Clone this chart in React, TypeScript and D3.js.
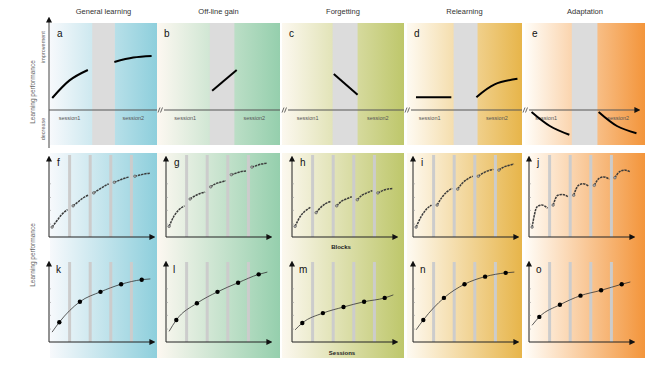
import * as d3 from 'd3';

const titles = ['General learning', 'Off-line gain', 'Forgetting', 'Relearning', 'Adaptation'];
const topLetters = ['a', 'b', 'c', 'd', 'e'];
const blockLetters = ['f', 'g', 'h', 'i', 'j'];
const sessionLetters = ['k', 'l', 'm', 'n', 'o'];
const gradStart = ['#f7f9fc', '#fdf8f1', '#fcf8ef', '#fefaf2', '#fffdf8'];
const gradEnd = ['#8ecfdc', '#95cfad', '#bec76b', '#e7b54a', '#f3953b'];

// top row: [time, performance]; time 0-4 = session1, 4-6 = break, 6-10 = session2
const curveA = [[[0.3, 0.15], [1.9, 0.37], [3.6, 0.5]], [[6.05, 0.6], [7.8, 0.655], [9.5, 0.675]]];
const curveB = [[[4.2, 0.24], [6.3, 0.5]]];
const curveC = [[[4.1, 0.45], [6.1, 0.19]]];
const curveD = [[[0.7, 0.16], [3.8, 0.16]], [[6.0, 0.16], [7.6, 0.32], [9.6, 0.39]]];
const curveE = [[[0.7, -0.025], [2.2, -0.2], [3.8, -0.31]], [[6.2, -0.025], [7.7, -0.2], [9.3, -0.29]]];
const topCurves = [curveA, curveB, curveC, curveD, curveE];

// middle row: 5 blocks, performance at four moments of each block
const blockPos = [0.17, 0.4, 0.63, 0.9];
const blocksF = [[13, 22, 30, 36], [41, 46, 51, 55], [58, 62, 66, 70], [72, 74.5, 77, 79], [80, 81.5, 83, 84]];
const blocksG = [[14, 28, 36, 41], [50, 54, 57, 59], [66, 70, 72, 74], [82, 84, 86, 87], [92, 94, 96, 97]];
const blocksH = [[14, 27, 34, 39], [32, 39, 44, 47], [41, 47, 50, 53], [49, 55, 58, 61], [58, 61, 63, 64]];
const blocksI = [[13, 27, 36, 42], [42, 52, 59, 64], [63, 71, 76, 80], [80, 84, 87, 89], [88, 92, 94, 96]];
const blocksJ = [[13, 40, 42, 38], [42, 55, 56, 53], [55, 68, 70, 67], [68, 77, 79, 76], [78, 86, 88, 86]];
const blockRows = [blocksF, blocksG, blocksH, blocksI, blocksJ];

// bottom row: one value per session, plus the fitted line ends
const sessionsK = [26, 53, 66, 76, 82];
const sessionsL = [29, 51, 66, 78, 89];
const sessionsM = [25, 38, 46, 53, 58];
const sessionsN = [29, 58, 76, 86, 91];
const sessionsO = [33, 49, 61, 68, 76];
const sessionRows = [sessionsK, sessionsL, sessionsM, sessionsN, sessionsO];
const fitEnds = [[13, 83], [14, 92], [16, 62], [16, 92], [22, 79]];

const yTicks = [17, 35, 52, 70];

const bgX = [50, 157, 282, 407, 525];
const bgR = [157, 280, 404, 522, 645];
const topStart = [49, 163, 285, 408, 523];
const axisX = [49, 166, 292, 413, 529];
const font = 'Liberation Sans, Arial, Helvetica, sans-serif';

const App = () => {
  const yTop = d3.scaleLinear().domain([0, 1]).range([110, 30]);
  const yMid = d3.scaleLinear().domain([0, 100]).range([237, 161]);
  const yBot = d3.scaleLinear().domain([0, 100]).range([342, 266]);

  const breaks = [159, 283, 406, 524];

  return (
    <svg width={654} height={370} style={{ position: 'absolute', left: 0, top: 0, background: '#fff' }}>
      <defs>
        {gradEnd.map((c, i) => (
          <linearGradient key={i} id={'g' + i} x1="0" x2="1" y1="0" y2="0">
            <stop offset="0" stopColor={gradStart[i]} />
            <stop offset="1" stopColor={c} />
          </linearGradient>
        ))}
        <marker id="arr" viewBox="0 0 10 10" refX="6" refY="5" markerWidth="6" markerHeight="6" markerUnits="userSpaceOnUse" orient="auto">
          <path d="M0,0 L10,5 L0,10 z" fill="#111" />
        </marker>
      </defs>

      {titles.map((t, i) => {
        const x = d3.scaleLinear().domain([0, 10]).range([topStart[i], bgR[i]]);
        const line = d3.line<number[]>().x((d) => x(d[0])).y((d) => yTop(d[1])).curve(d3.curveNatural);
        return (
          <g key={t}>
            <text x={(bgX[i] + bgR[i]) / 2} y={14} fontSize={7.5} fontFamily={font} textAnchor="middle" fill="#333">{t}</text>
            <rect x={bgX[i]} y={23} width={bgR[i] - bgX[i]} height={122} fill={`url(#g${i})`} />
            <rect x={x(4)} y={23} width={x(6.1) - x(4)} height={122} fill="#dcdcdc" />
            <text x={bgX[i] + 7} y={37} fontSize={10} fontFamily={font} fill="#111">{topLetters[i]}</text>
            <text x={x(1.9)} y={120} fontSize={5.5} fontFamily={font} textAnchor="middle" fill="#555">session1</text>
            <text x={x(7.8)} y={120} fontSize={5.5} fontFamily={font} textAnchor="middle" fill="#555">session2</text>
            {topCurves[i].map((seg, j) => (
              <path key={j} d={line(seg) || ''} fill="none" stroke="#000" strokeWidth={2} />
            ))}
          </g>
        );
      })}

      {/* top axes */}
      <line x1={49} x2={49} y1={148} y2={19} stroke="#444" strokeWidth={1} markerEnd="url(#arr)" />
      {bgX.map((_, i) => (
        <line key={i} x1={i === 0 ? 49 : breaks[i - 1] + 5} x2={i === 4 ? 638 : bgR[i]} y1={110} y2={110}
          stroke="#555" strokeWidth={1} markerEnd={i === 4 ? 'url(#arr)' : undefined} />
      ))}
      {breaks.map((b) => (
        <g key={b} stroke="#444" strokeWidth={0.8}>
          <line x1={b - 1} y1={112.5} x2={b + 1} y2={107.5} />
          <line x1={b + 1.5} y1={112.5} x2={b + 3.5} y2={107.5} />
        </g>
      ))}
      <text transform="translate(45,47) rotate(-90)" fontSize={5.5} fontFamily={font} textAnchor="middle" fill="#666">improvement</text>
      <text transform="translate(45,129) rotate(-90)" fontSize={5.5} fontFamily={font} textAnchor="middle" fill="#666">decrease</text>
      <text transform="translate(35,92) rotate(-90)" fontSize={6.5} fontFamily={font} textAnchor="middle" fill="#666">Learning performance</text>
      <text transform="translate(35,255) rotate(-90)" fontSize={6.5} fontFamily={font} textAnchor="middle" fill="#666">Learning performance</text>

      {/* lower rows */}
      {titles.map((t, i) => {
        const x = d3.scaleLinear().domain([0, 5]).range([axisX[i], axisX[i] + 103]);
        const fit = d3.line<number[]>().x((d) => x(d[0])).y((d) => yBot(d[1])).curve(d3.curveMonotoneX);
        const fitPts = [[0.15, fitEnds[i][0]], ...sessionRows[i].map((v, k) => [k + 0.5, v]), [4.92, fitEnds[i][1]]];
        return (
          <g key={t}>
            <rect x={bgX[i]} y={153} width={bgR[i] - bgX[i]} height={205} fill={`url(#g${i})`} />
            {[1, 2, 3, 4].map((k) => (
              <g key={k}>
                <line x1={x(k)} x2={x(k)} y1={155} y2={yMid(0)} stroke="#cccccc" strokeWidth={3} />
                <line x1={x(k)} x2={x(k)} y1={262} y2={yBot(0)} stroke="#cccccc" strokeWidth={3} />
              </g>
            ))}
            {[yMid, yBot].map((y, r) => (
              <g key={r}>
                <line x1={axisX[i]} x2={axisX[i]} y1={y(0)} y2={y(0) - 79} stroke="#222" strokeWidth={1} markerEnd="url(#arr)" />
                <line x1={axisX[i]} x2={axisX[i] + 104} y1={y(0)} y2={y(0)} stroke="#222" strokeWidth={1} markerEnd="url(#arr)" />
                {yTicks.map((v) => (
                  <line key={v} x1={axisX[i]} x2={axisX[i] + 2} y1={y(v)} y2={y(v)} stroke="#999" strokeWidth={0.6} />
                ))}
              </g>
            ))}
            {blockRows[i].map((b, k) => {
              const pts = b.map((v, p) => [x(k + (k === 0 && p === 0 ? 0.15 : blockPos[p])), yMid(v)] as [number, number]);
              const path = d3.line().curve(d3.curveMonotoneX)(pts) || '';
              return (
                <g key={k}>
                  <path d={path} fill="none" stroke="#3a3a3a" strokeWidth={1.5} strokeDasharray="2.4 0.8" />
                  <circle cx={pts[0][0]} cy={pts[0][1]} r={1.3} fill="#aaa" stroke="#444" strokeWidth={0.5} />
                </g>
              );
            })}
            <path d={fit(fitPts) || ''} fill="none" stroke="#333" strokeWidth={0.8} />
            {sessionRows[i].map((v, k) => (
              <circle key={k} cx={x(k + 0.5)} cy={yBot(v)} r={2.2} fill="#000" />
            ))}
            <text x={axisX[i] + 8} y={166} fontSize={10} fontFamily={font} fill="#111">{blockLetters[i]}</text>
            <text x={axisX[i] + 7} y={273} fontSize={10} fontFamily={font} fill="#111">{sessionLetters[i]}</text>
          </g>
        );
      })}
      <text x={341} y={249} fontSize={6} fontWeight="bold" fontFamily={font} textAnchor="middle" fill="#222">Blocks</text>
      <text x={342} y={355} fontSize={6} fontWeight="bold" fontFamily={font} textAnchor="middle" fill="#222">Sessions</text>
    </svg>
  );
};

export default App;
